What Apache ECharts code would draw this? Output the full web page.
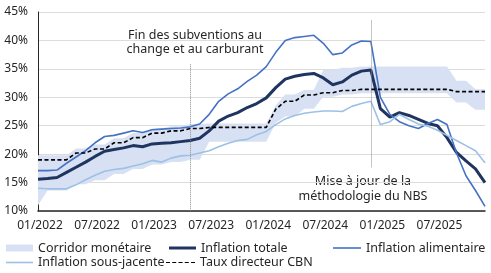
<!DOCTYPE html>
<html>
<head>
<meta charset="utf-8">
<script src="https://cdn.jsdelivr.net/npm/echarts@6/dist/echarts.min.js"></script>
<style>
  html, body { margin: 0; padding: 0; background: #fff; }
  #chart { width: 491px; height: 273px; }
</style>
</head>
<body>
<div id="chart"></div>
<script>
// months shown on the x axis (one point per month)
const months = [
  "01/2022", "02/2022", "03/2022", "04/2022", "05/2022", "06/2022", "07/2022", "08/2022", "09/2022", "10/2022", "11/2022", "12/2022",
  "01/2023", "02/2023", "03/2023", "04/2023", "05/2023", "06/2023", "07/2023", "08/2023", "09/2023", "10/2023", "11/2023", "12/2023",
  "01/2024", "02/2024", "03/2024", "04/2024", "05/2024", "06/2024", "07/2024", "08/2024", "09/2024", "10/2024", "11/2024", "12/2024",
  "01/2025", "02/2025", "03/2025", "04/2025", "05/2025", "06/2025", "07/2025", "08/2025", "09/2025", "10/2025", "11/2025", "12/2025"
];

const inflationTotale = [
  15.6, 15.7, 15.9, 16.8, 17.7, 18.6, 19.6, 20.5, 20.8, 21.1, 21.5, 21.3,
  21.8, 21.9, 22.0, 22.2, 22.4, 22.8, 24.1, 25.8, 26.7, 27.3, 28.2, 28.9,
  29.9, 31.7, 33.2, 33.7, 34.0, 34.2, 33.4, 32.2, 32.7, 33.9, 34.6, 34.8,
  28.0, 26.5, 27.3, 26.8, 26.1, 25.4, 25.0, 22.9, 20.3, 18.8, 17.4, 15.0
];

const inflationAlimentaire = [
  17.1, 17.1, 17.2, 18.4, 19.5, 20.6, 22.0, 23.1, 23.3, 23.7, 24.1, 23.8,
  24.3, 24.4, 24.5, 24.6, 24.8, 25.3, 27.0, 29.3, 30.6, 31.5, 32.8, 33.9,
  35.4, 37.9, 40.0, 40.5, 40.7, 40.9, 39.5, 37.5, 37.8, 39.2, 39.9, 39.8,
  30.0, 27.0, 25.7, 25.0, 24.5, 25.4, 26.1, 25.2, 20.2, 16.2, 13.6, 10.8
];

const inflationSousJacente = [
  14.0, 13.9, 13.9, 13.9, 14.6, 15.5, 16.3, 17.0, 17.3, 17.5, 17.9, 18.3,
  18.9, 18.6, 19.3, 19.7, 19.8, 20.2, 20.6, 21.3, 21.9, 22.4, 22.6, 23.4,
  24.0, 25.2, 26.2, 26.8, 27.2, 27.4, 27.6, 27.6, 27.5, 28.4, 28.9, 29.3,
  25.2, 25.7, 27.0, 26.1, 25.3, 24.9, 24.2, 23.3, 22.4, 21.5, 20.6, 18.5
];

const tauxDirecteur = [
  19.0, 19.0, 19.0, 19.0, 20.2, 20.2, 20.9, 20.9, 22.0, 22.0, 22.9, 22.9,
  23.7, 23.7, 24.1, 24.1, 24.5, 24.5, 24.7, 24.7, 24.7, 24.7, 24.7, 24.7,
  24.7, 27.9, 29.3, 29.3, 30.4, 30.4, 30.8, 30.8, 31.2, 31.2, 31.4, 31.4,
  31.4, 31.4, 31.4, 31.4, 31.4, 31.4, 31.4, 31.4, 31.0, 31.0, 31.0, 31.0
];

const corridorHaut = [
  19.8, 19.8, 19.8, 19.8, 21.0, 21.0, 21.7, 21.7, 22.8, 22.8, 23.7, 23.7,
  24.5, 24.5, 24.9, 24.9, 25.3, 25.3, 25.4, 25.4, 25.4, 25.4, 25.4, 25.4,
  25.4, 28.6, 30.5, 30.5, 31.3, 31.3, 34.8, 34.8, 35.2, 35.2, 35.4, 35.4,
  35.4, 35.4, 35.4, 35.4, 35.4, 35.4, 35.4, 35.4, 32.9, 32.9, 31.4, 31.4
];

const corridorBas = [
  11.0, 13.6, 13.6, 13.6, 14.7, 14.7, 15.4, 15.4, 16.5, 16.5, 17.4, 17.4,
  18.2, 18.2, 18.6, 18.6, 19.0, 19.0, 22.2, 22.2, 22.2, 22.2, 22.2, 22.2,
  22.2, 25.5, 26.6, 26.6, 28.0, 28.0, 30.1, 30.1, 30.5, 30.5, 30.7, 30.7,
  30.7, 30.7, 30.7, 30.7, 30.7, 30.7, 30.7, 30.7, 29.1, 29.1, 27.8, 27.8
];

const yTicks = { min: 10, max: 45, step: 5 };

// band thickness for the stacked area
const corridorEcart = corridorHaut.map((v, i) => +(v - corridorBas[i]).toFixed(2));

const FONT = "Noto Sans";
const TXT = "#262626";
const C_BAND = "#d7e1f3";
const C_TOT = "#1f3560";
const C_ALIM = "#4472c4";
const C_SJ = "#9dc0e5";

// dashed legend mark
const DASH_ICON = "path://M0,0h4v1h-4z M6.3,0h4v1h-4z M12.6,0h4v1h-4z M18.9,0h4v1h-4z M25.2,0h4v1h-4z";

const chart = echarts.init(document.getElementById("chart"), null, { renderer: "canvas" });

function legendFor(name, icon, color, left, top, w, h) {
  return {
    orient: "horizontal",
    padding: 0,
    left: left,
    top: top - 7,
    itemWidth: w,
    itemHeight: h,
    selectedMode: false,
    itemStyle: { borderWidth: 0 },
    textStyle: { fontFamily: FONT, fontSize: 12.5, color: TXT, lineHeight: 14 },
    data: [{ name: name, icon: icon, itemStyle: { color: color, borderWidth: 0 } }]
  };
}

chart.setOption({
  animation: false,
  backgroundColor: "#fff",
  grid: { left: 38, right: 6, top: 12, bottom: 62 },
  xAxis: {
    type: "category",
    data: months,
    boundaryGap: false,
    axisLine: { lineStyle: { color: "#262626", width: 1.5 } },
    axisTick: { show: false },
    splitLine: { show: false },
    axisLabel: {
      interval: 5,
      margin: 9,
      padding: [0, 0, 0, 4],
      fontFamily: FONT,
      fontSize: 12,
      color: TXT
    }
  },
  yAxis: {
    type: "value",
    min: yTicks.min,
    max: yTicks.max,
    interval: yTicks.step,
    axisLine: { show: true, lineStyle: { color: "#262626", width: 1 } },
    axisTick: { show: false },
    splitLine: { lineStyle: { color: "#dcdcdc", width: 1 } },
    axisLabel: {
      margin: 10,
      formatter: "{value}%",
      fontFamily: FONT,
      fontSize: 12,
      color: TXT
    }
  },
  legend: [
    legendFor("Corridor monétaire", "rect", C_BAND, 6, 248, 27, 7),
    legendFor("Inflation totale", "rect", C_TOT, 169, 248, 27, 3),
    legendFor("Inflation alimentaire", "rect", C_ALIM, 333, 248, 28, 1.6),
    legendFor("Inflation sous-jacente", "rect", C_SJ, 6, 262.5, 27, 1.6),
    legendFor("Taux directeur CBN", DASH_ICON, "#000", 166, 262.5, 29, 1.6)
  ],
  series: [
    {
      name: "corridorBase",
      type: "line",
      data: corridorBas,
      stack: "corridor",
      symbol: "none",
      silent: true,
      lineStyle: { opacity: 0 },
      z: 1
    },
    {
      name: "Corridor monétaire",
      type: "line",
      data: corridorEcart,
      stack: "corridor",
      symbol: "none",
      silent: true,
      lineStyle: { opacity: 0 },
      itemStyle: { color: C_BAND },
      areaStyle: { color: C_BAND, opacity: 1 },
      z: 1
    },
    {
      name: "Inflation totale",
      type: "line",
      data: inflationTotale,
      symbol: "none",
      itemStyle: { color: C_TOT },
      lineStyle: { color: C_TOT, width: 3 },
      z: 3,
      markLine: {
        silent: true,
        symbol: ["none", "none"],
        label: { show: false },
        lineStyle: { color: "#8c8c8c", type: "dotted", width: 1 },
        data: [
          [{ coord: ["05/2023", 35.8] }, { coord: ["05/2023", 10] }],
          [{ coord: ["12/2024", 43.5] }, { coord: ["12/2024", 17.7] }]
        ]
      }
    },
    {
      name: "Inflation alimentaire",
      type: "line",
      data: inflationAlimentaire,
      symbol: "none",
      itemStyle: { color: C_ALIM },
      lineStyle: { color: C_ALIM, width: 1.6 },
      z: 4
    },
    {
      name: "Inflation sous-jacente",
      type: "line",
      data: inflationSousJacente,
      symbol: "none",
      itemStyle: { color: C_SJ },
      lineStyle: { color: C_SJ, width: 1.6 },
      z: 4
    },
    {
      name: "Taux directeur CBN",
      type: "line",
      data: tauxDirecteur,
      symbol: "none",
      itemStyle: { color: "#000" },
      lineStyle: { color: "#000", width: 1.6, type: [4, 2.5] },
      z: 5
    }
  ],
  graphic: [
    {
      type: "text",
      x: 195,
      y: 42.5,
      silent: true,
      style: {
        text: "Fin des subventions au\nchange et au carburant",
        align: "center",
        verticalAlign: "middle",
        lineHeight: 14.5,
        font: "12.5px 'Noto Sans'",
        fill: TXT
      }
    },
    {
      type: "text",
      x: 363,
      y: 189,
      silent: true,
      style: {
        text: "Mise à jour de la\nméthodologie du NBS",
        align: "center",
        verticalAlign: "middle",
        lineHeight: 14.5,
        font: "12.5px 'Noto Sans'",
        fill: TXT
      }
    }
  ]
});
</script>
</body>
</html>
